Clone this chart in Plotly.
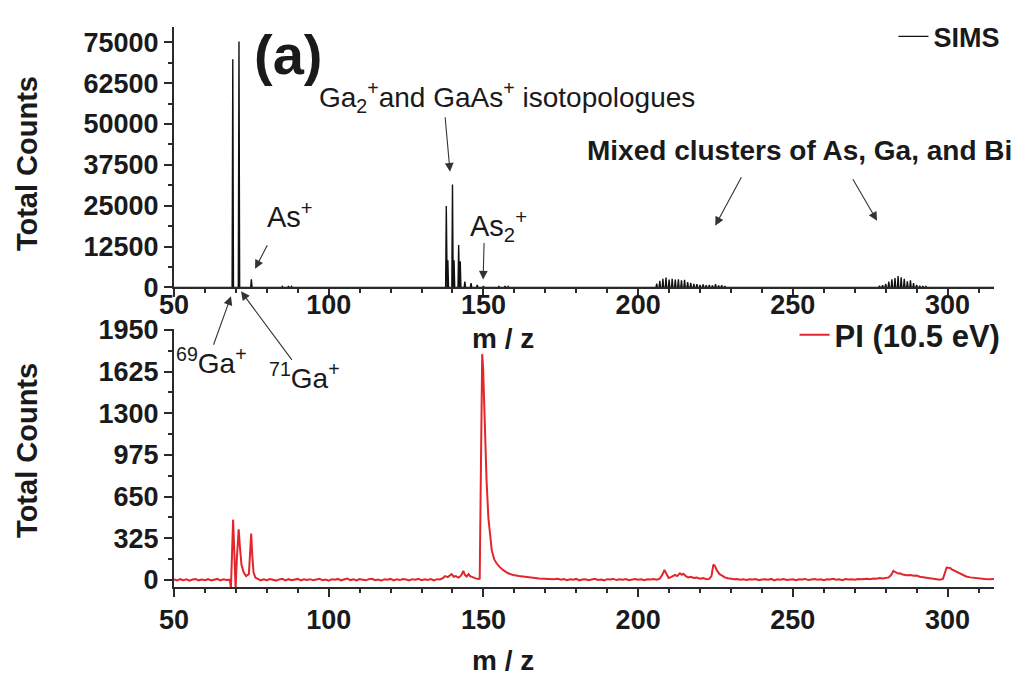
import plotly.graph_objects as go

# ---------------- data ----------------
# SIMS stick spectrum: peak m/z and heights (counts)
sims_mz = [69, 71, 75, 85, 87, 88,
           138, 138.5, 140, 140.5, 142, 142.5, 144, 146, 148, 150, 155, 157, 158,
           206, 207, 208, 209, 210, 211, 212, 213, 214, 215, 216, 217, 218, 219, 220,
           221, 222, 223, 224, 225, 226, 227, 228,
           278, 279, 280, 281, 282, 283, 284, 285, 286, 287, 288, 289, 290, 291, 292, 293]
sims_counts = [69800, 75300, 2500, 300, 450, 300,
               24900, 8300, 31500, 8300, 13000, 8000, 1800, 1300, 800, 450, 300, 450, 300,
               1200, 2000, 2600, 3000, 2400, 2600, 2400, 2500, 2200, 2300, 1600, 1400, 1100, 1000, 800,
               900, 700, 800, 600, 1000, 600, 700, 400,
               500, 700, 1100, 1800, 2500, 2900, 3500, 3100, 2600, 1900, 2200, 1300, 800, 500, 400, 300]

# PI (10.5 eV) spectrum, in consecutive m/z segments
pi_mz_low = [50, 51, 52, 53, 54, 55, 56, 57, 58, 59, 60, 61, 62, 63, 64, 65, 66, 67, 68]
pi_counts_low = [4, -3, 6, -2, 5, -5, 3, 7, -3, 4, -2, 6, -4, 3, 8, -3, 5, -1, 2]

pi_mz_ga = [68.4, 68.8, 69.1, 69.5, 69.9, 70.3, 70.9, 71.3, 71.8, 72.5, 73.3, 74.2, 74.6, 74.95,
            75.3, 75.7, 76.3, 77]
pi_counts_ga = [-60, 300, 470, 210, -70, 160, 395, 260, 120, 60, 30, 45, 210, 362,
                190, 60, 18, 6]

pi_mz_mid = [78, 79, 80, 81, 82, 83, 84, 85, 86, 87, 88, 89, 90, 91, 92, 93, 94, 95, 96, 97, 98, 99,
             100, 101, 102, 103, 104, 105, 106, 107, 108, 109, 110, 111, 112, 113, 114, 115, 116, 117,
             118, 119, 120, 121, 122, 123, 124, 125, 126, 127, 128, 129, 130, 131, 132, 133, 134, 135, 136]
pi_counts_mid = [-4, 5, -2, 7, 1, -5, 4, 9, -3, 6, -2, 3, 8, -4, 5, 0, 6, -3, 4, 9, -2, 3,
                 -5, 6, 2, 8, -3, 4, 10, -1, 5, -4, 7, 2, -3, 6, 9, -2, 4, -5,
                 6, 1, 8, -3, 5, -1, 7, 3, -4, 6, 2, 9, -2, 5, 0, 7, -3, 6, 4]

pi_mz_150 = [137, 137.6, 138.5, 139.2, 139.7, 140.4, 141, 142, 142.8, 143.5, 144, 144.6, 145.2, 145.7,
             146.5, 147.5, 148.3, 148.8, 149.2, 149.6, 149.9, 150.5, 151, 151.6, 152.2, 152.7, 153.5,
             154.3, 155.3, 156.4, 158, 159.6, 161.5, 163, 164, 166, 168, 170, 172.5]
pi_counts_150 = [15, 30, 22, 35, 46, 25, 30, 18, 35, 71, 40, 27, 45, 30,
                 20, 12, 8, 10, 900, 1760, 1650, 1122, 780, 484, 320, 229, 160,
                 128, 100, 76, 52, 38, 30, 24, 20, 17, 12, 8, 5]

pi_mz_200 = [174, 175, 176, 177, 178, 179, 180, 181, 182, 183, 184, 185, 186, 187, 188, 189, 190, 191,
             192, 193, 194, 195, 196, 197, 198, 199, 200, 201, 202, 203, 204, 205, 206, 207]
pi_counts_200 = [9, 2, 7, -2, 5, 1, 8, -3, 4, 6, -2, 5, 9, 0, 4, -3, 6, 3,
                 8, -1, 5, 2, 7, -2, 4, 8, 1, 5, -2, 6, 3, 8, 2, 10]

pi_mz_cl1 = [207.8, 208.5, 209.2, 209.9, 210.6, 211.3, 211.9, 212.6, 213.5, 214.1, 214.6, 215.4, 216.2,
             217, 218, 218.9, 220, 221, 222.1, 223, 223.7, 224.3, 224.8, 225.4, 226.3, 227, 228, 229]
pi_counts_cl1 = [40, 78, 45, 15, 22, 35, 40, 30, 52, 40, 48, 30, 20,
                 25, 15, 18, 10, 14, 6, 8, 30, 120, 110, 76, 45, 35, 20, 14]

pi_mz_flat = [230, 231, 232, 233, 234, 235, 236, 237, 238, 239, 240, 241, 242, 243, 244, 245, 246, 247,
              248, 249, 250, 251, 252, 253, 254, 255, 256, 257, 258, 259, 260, 261, 262, 263, 264, 265,
              266, 267, 268, 269, 270, 271, 272, 273, 274, 275, 276, 277, 278, 279, 280, 281]
pi_counts_flat = [10, 5, 8, 2, 6, -1, 5, 3, 7, -2, 4, 6, 1, 8, -3, 5, 2, 7,
                  0, 4, 6, -2, 5, 3, 8, -1, 4, 7, 2, 5, -2, 6, 3, 9, 1, 5,
                  -2, 7, 4, 6, 2, 8, 5, 9, 10, 6, 12, 9, 15, 12, 18, 20]

pi_mz_cl2 = [281.8, 282.5, 283.2, 284, 284.6, 285.5, 286.8, 288, 289, 290, 291, 292, 293, 294, 295.4,
             296.5, 297.5, 298.5, 299.2, 299.7, 300.3, 300.8, 301.5, 302.4, 303.5, 304.6, 306, 307.3,
             308.5, 310.5, 312, 313.7, 315]
pi_counts_cl2 = [40, 71, 60, 50, 52, 42, 36, 38, 32, 34, 25, 22, 18, 15, 10,
                 5, 2, 8, 60, 97, 95, 94, 80, 69, 52, 38, 27, 20,
                 16, 10, 8, 5, 7]

x_ticks = [50, 100, 150, 200, 250, 300]
top_y_ticks = [0, 12500, 25000, 37500, 50000, 62500, 75000]
bottom_y_ticks = [0, 325, 650, 975, 1300, 1625, 1950]

pi_mz = (pi_mz_low + pi_mz_ga + pi_mz_mid + pi_mz_150 + pi_mz_200 +
         pi_mz_cl1 + pi_mz_flat + pi_mz_cl2)
pi_counts = (pi_counts_low + pi_counts_ga + pi_counts_mid + pi_counts_150 + pi_counts_200 +
             pi_counts_cl1 + pi_counts_flat + pi_counts_cl2)

# ---------------- build stick trace from peak list ----------------
HW = 0.22
sx, sy = [50], [0]
for m, h in sorted(zip(sims_mz, sims_counts)):
    sx += [m - HW, m, m + HW]
    sy += [0, h, 0]
sx.append(315)
sy.append(0)

W, H = 1021, 687
ML, MR, MT, MB = 174, 27, 15, 100
PW, PH = W - ML - MR, H - MT - MB


def px(x, y):
    return (x - ML) / PW, (H - MB - y) / PH


FONT = "Liberation Sans, Arial, sans-serif"
AX = "#2a2a2a"
RED = "#e3262b"
TXT = "#1a1a1a"

fig = go.Figure()
fig.add_trace(go.Scatter(x=sx, y=sy, mode="lines", name="SIMS",
                         line=dict(color="#111111", width=1.4),
                         xaxis="x2", yaxis="y2", legend="legend"))
fig.add_trace(go.Scatter(x=pi_mz, y=pi_counts, mode="lines", name="PI (10.5 eV)",
                         line=dict(color=RED, width=2),
                         xaxis="x", yaxis="y", legend="legend2"))

tickfont = dict(family=FONT, size=27, color=TXT, weight="bold")
axis_common = dict(showline=True, linecolor=AX, linewidth=2, ticks="outside",
                   ticklen=8, tickwidth=2, tickcolor=AX, showgrid=False, zeroline=False,
                   mirror=False, tickfont=tickfont)


def minor(d):
    return dict(dtick=d, tick0=0, ticks="outside", ticklen=4, tickwidth=1.5, tickcolor=AX)


bot_dom = px(0, 587)[1], px(0, 323)[1]
top_dom = px(0, 281)[1], px(0, 15)[1]

fig.update_layout(
    width=W, height=H,
    margin=dict(l=ML, r=MR, t=MT, b=MB),
    paper_bgcolor="white", plot_bgcolor="white",
    xaxis=dict(domain=[0, 1], anchor="y", range=[50, 315], tickvals=x_ticks,
               ticktext=[str(v) for v in x_ticks], minor=minor(10), **axis_common),
    xaxis2=dict(domain=[0, 1], anchor="y2", range=[50, 315], tickvals=x_ticks,
                ticktext=[str(v) for v in x_ticks], minor=minor(10), ticklabelstandoff=-16,
                **axis_common),
    yaxis=dict(domain=[bot_dom[0], bot_dom[1]], anchor="x", range=[-55, 1960],
               tickvals=bottom_y_ticks, ticktext=[str(v) for v in bottom_y_ticks],
               minor=minor(162.5), **axis_common),
    yaxis2=dict(domain=[top_dom[0], top_dom[1]], anchor="x2", range=[0, 79700],
                tickvals=top_y_ticks, ticktext=[str(v) for v in top_y_ticks],
                minor=minor(6250), **axis_common),
    legend=dict(x=1.014, y=px(0, 0)[1], xanchor="right", yanchor="top", bgcolor="rgba(0,0,0,0)",
                font=dict(family=FONT, size=27, color=TXT, weight="bold")),
    legend2=dict(x=1.014, y=px(0, 302)[1], xanchor="right", yanchor="top", bgcolor="rgba(0,0,0,0)",
                 font=dict(family=FONT, size=31, color=TXT, weight="bold")),
    showlegend=True,
)

ann = []


def text_at(x, y, t, size, bold=False, angle=0):
    xp, yp = px(x, y)
    ann.append(dict(xref="paper", yref="paper", x=xp, y=yp, text=t, showarrow=False,
                    xanchor="center", yanchor="middle", textangle=angle,
                    font=dict(family=FONT, size=size, color=TXT,
                              weight="bold" if bold else "normal")))


def arrow(xd, yd, ax, ay):
    ann.append(dict(xref="x2", yref="y2", x=xd, y=yd, ax=ax, ay=ay, text="", showarrow=True,
                    arrowhead=2, arrowsize=1.6, arrowwidth=1.1, arrowcolor="#333333"))


def arrow_px(hx, hy, tx, ty):
    xp, yp = px(hx, hy)
    ann.append(dict(xref="paper", yref="paper", x=xp, y=yp, ax=tx - hx, ay=ty - hy, text="",
                    showarrow=True, arrowhead=2, arrowsize=1.6, arrowwidth=1.1,
                    arrowcolor="#333333"))


# axis titles
text_at(27, 155, "Total Counts", 29, bold=True, angle=-90)
text_at(27, 448, "Total Counts", 29, bold=True, angle=-90)
text_at(503, 333, "m / z", 28, bold=True)
text_at(503, 662, "m / z", 28, bold=True)

# panel label and annotations
text_at(288, 43, "(a)", 56, bold=True)
text_at(507, 86, "Ga<sub>2</sub><sup>+</sup>and GaAs<sup>+</sup> isotopologues", 28)
text_at(799, 141, "Mixed clusters of As, Ga, and Bi", 28, bold=True)
text_at(290, 207, "As<sup>+</sup>", 29)
text_at(498, 218, "As<sub>2</sub><sup>+</sup>", 29)
text_at(211, 356, "<sup>69</sup>Ga<sup>+</sup>", 28)
text_at(304, 371, "<sup>71</sup>Ga<sup>+</sup>", 28)

# arrows (heads in data coordinates of the top panel, tails as pixel offsets)
arrow(139.2, 35400, -5, -56)
arrow(76.2, 5700, 13, -25)
arrow(149.9, 2400, 1, -38)
arrow(224.9, 18900, 27, -50)
arrow(277.2, 20400, -25, -43)
arrow_px(231, 290, 213, 340)
arrow_px(241, 285, 293, 355)

fig.update_layout(annotations=ann)
fig.write_html("out.html")
